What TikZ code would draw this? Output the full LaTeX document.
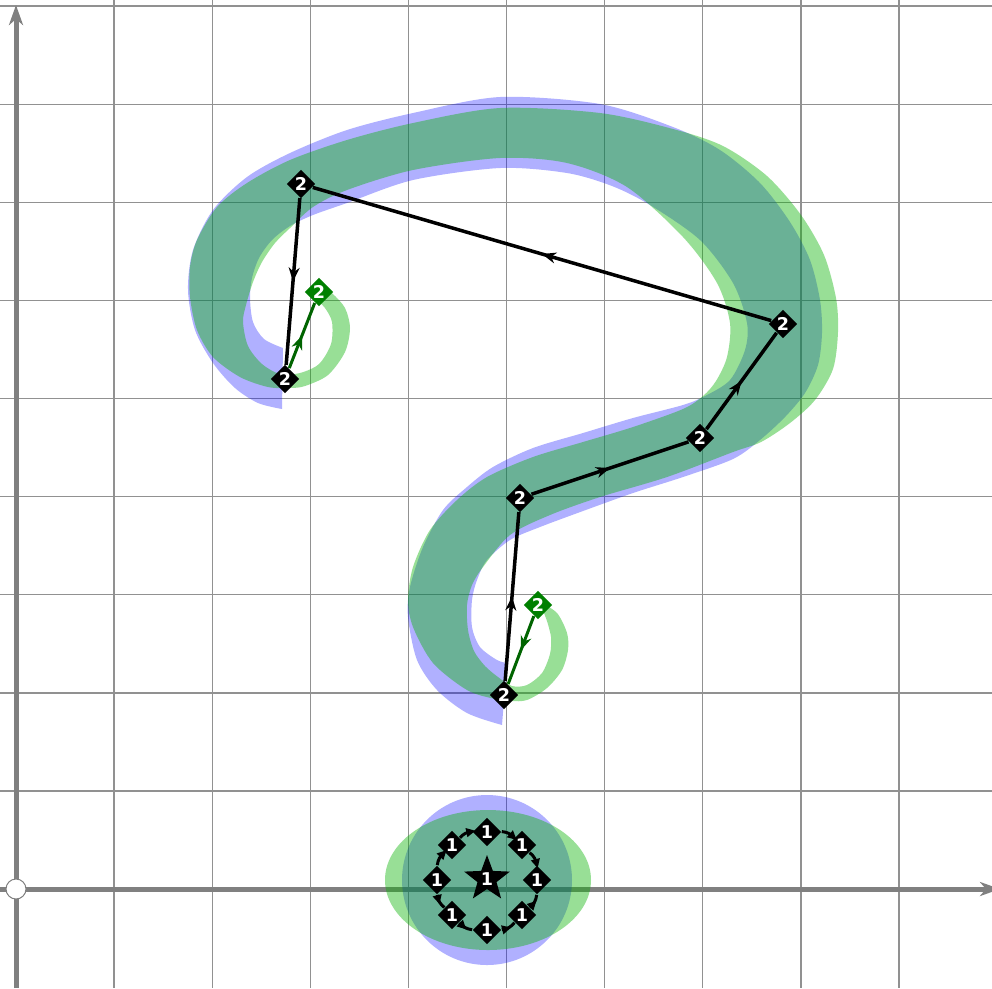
\documentclass[tikz,border=0pt]{standalone}
\usepackage{fontspec}
\setsansfont{DejaVu Sans}
\usetikzlibrary{arrows.meta,shapes.geometric,decorations.markings}
\definecolor{gridc}{RGB}{145,145,145}
\definecolor{axisc}{RGB}{128,128,128}
\definecolor{bluef}{RGB}{0,0,255}
\definecolor{greenf}{RGB}{10,180,5}
\definecolor{dkgreen}{RGB}{0,128,0}
\definecolor{dkgreenline}{RGB}{0,100,0}
\begin{document}
\begin{tikzpicture}[x=0.1mm,y=-0.1mm,
  gridline/.style={draw=gridc,line width=0.14mm},
  axisline/.style={draw=axisc,line width=0.5mm,-{Stealth[length=2mm,width=1.4mm,inset=0.6mm]}},
  bluestroke/.style={fill=bluef,fill opacity=0.31},
  greenstroke/.style={fill=greenf,fill opacity=0.42},
  ptbox/.style={diamond,fill=black,inner sep=0pt,minimum width=2.9mm,minimum height=2.9mm,text=white,font=\sffamily\bfseries\fontsize{5}{5}\selectfont},
  gptbox/.style={ptbox,fill=dkgreen},
  starbox/.style={star,star points=5,star point ratio=2.4,fill=black,inner sep=0pt,minimum size=4.8mm,text=white,font=\sffamily\bfseries\fontsize{5}{5}\selectfont},
  midarrow/.style={postaction={decorate},decoration={markings,mark=at position 0.5 with {\arrow{Stealth[length=1.4mm,width=1.1mm,inset=0.45mm]}}}},
  poly/.style={color=black,line width=0.35mm,midarrow},
  gpoly/.style={color=dkgreenline,line width=0.3mm,midarrow},
  cpoly/.style={color=black,line width=0.3mm},
  ctip/.style={sloped,isosceles triangle,isosceles triangle apex angle=55,fill=black,inner sep=0pt,minimum height=0.9mm,minimum width=0.8mm,pos=0.8}
]
\clip (0,0) rectangle (992,988);
\fill[white] (0,0) rectangle (992,988);
% grid
\foreach \k in {1,...,9} {
  \draw[gridline] ({16+98.1*\k},0) -- ({16+98.1*\k},988);
  \draw[gridline] (0,{889-98.1*\k}) -- (992,{889-98.1*\k});
}
% axes
\draw[axisline] (16,988) -- (16,5);
\draw[axisline] (0,889) -- (1000,889);

% blue stroke
\fill[bluestroke]
  plot[smooth] coordinates {(502,725) (467,713) (437,690) (417,660) (408,617) (410,587) (423,547) (443,510) (467,487) (493,467) (533,448) (583,433) (633,418) (683,405) (705,396) (730,380) (745,350) (747,323) (733,283) (700,240) (650,205) (612,186) (567,173) (500,168) (413,180) (347,203) (313,215) (290,226) (272,240) (259,258) (252,278) (250,298) (253,322) (264,339) (283,348)}
  -- plot[smooth] coordinates {(282,409) (258,403) (235,388) (213,363) (195,330) (188,290) (193,250) (213,210) (247,177) (290,153) (347,130) (413,113) (500,97) (600,104) (673,127) (720,150) (760,183) (790,222) (810,260) (820,300) (822,333) (818,365) (805,393) (785,417) (760,440) (733,459) (683,477) (633,493) (583,511) (540,527) (510,540) (487,560) (477,580) (472,600) (472,627) (480,647) (497,660) (507,663)}
  -- cycle;
% green stroke
\fill[greenstroke]
  plot[smooth] coordinates {(540,602) (557,613) (567,633) (568,650) (562,670) (547,688) (527,700) (510,701) (495,699) (467,690) (433,663) (413,627) (408,600) (413,567) (430,530) (457,500) (487,477) (533,457) (583,442) (633,427) (683,409) (703,396) (716,381) (727,357) (730,323) (717,283) (683,237) (627,187) (567,163) (500,158) (413,170) (347,190) (313,207) (290,228) (275,243) (262,262) (253,282) (246,305) (243,322) (248,346) (262,364) (280,374) (300,373) (319,364) (331,344) (332,322) (325,308) (316,299)}
  -- plot[smooth] coordinates {(323,286) (333,294) (345,308) (350,328) (345,352) (328,375) (305,386) (290,388) (268,387) (240,377) (213,357) (197,330) (190,297) (190,267) (197,240) (217,207) (247,183) (290,160) (347,140) (413,123) (500,108) (600,113) (673,129) (723,146) (767,176) (801,215) (824,255) (836,298) (838,332) (833,369) (815,400) (790,423) (761,442) (733,452) (667,477) (600,497) (550,515) (510,535) (483,567) (472,585) (467,605) (468,630) (474,651) (485,666) (498,677) (512,686) (527,685) (542,673) (550,654) (551,637) (547,621)}
  -- cycle;
% dot shapes
\fill[bluestroke] (487,880) circle[radius=85];
\fill[greenstroke] (488,880) ellipse[x radius=103,y radius=70];

% origin
\node[circle,draw=axisc,fill=white,minimum size=2mm,inner sep=0pt,line width=0.1mm] (O) at (16,889) {};

% control points
\node[ptbox] (A) at (504,695) {2};
\node[ptbox] (B) at (520,498) {2};
\node[ptbox] (C) at (700,438) {2};
\node[ptbox] (D) at (783,324) {2};
\node[ptbox] (E) at (301,184) {2};
\node[ptbox] (F) at (285,379) {2};
\node[gptbox] (G1) at (538,605) {2};
\node[gptbox] (G2) at (319,292) {2};

\draw[gpoly] (G1) -- (A);
\draw[poly] (A) -- (B);
\draw[poly] (B) -- (C);
\draw[poly] (C) -- (D);
\draw[poly] (D) -- (E);
\draw[poly] (E) -- (F);
\draw[gpoly] (F) -- (G2);

% dot control points
\node[starbox] (S) at (487,879) {1};
\node[ptbox] (c1) at (487,832) {1};
\node[ptbox] (c2) at (522,845) {1};
\node[ptbox] (c3) at (537,880) {1};
\node[ptbox] (c4) at (522,915) {1};
\node[ptbox] (c5) at (487,930) {1};
\node[ptbox] (c6) at (452,915) {1};
\node[ptbox] (c7) at (437,880) {1};
\node[ptbox] (c8) at (452,845) {1};
\draw[cpoly] (c1) to[bend left=22] node[ctip]{} (c2);
\draw[cpoly] (c2) to[bend left=22] node[ctip]{} (c3);
\draw[cpoly] (c3) to[bend left=22] node[ctip]{} (c4);
\draw[cpoly] (c4) to[bend left=22] node[ctip]{} (c5);
\draw[cpoly] (c5) to[bend left=22] node[ctip]{} (c6);
\draw[cpoly] (c6) to[bend left=22] node[ctip]{} (c7);
\draw[cpoly] (c7) to[bend left=22] node[ctip]{} (c8);
\draw[cpoly] (c8) to[bend left=22] node[ctip]{} (c1);
\end{tikzpicture}
\end{document}
